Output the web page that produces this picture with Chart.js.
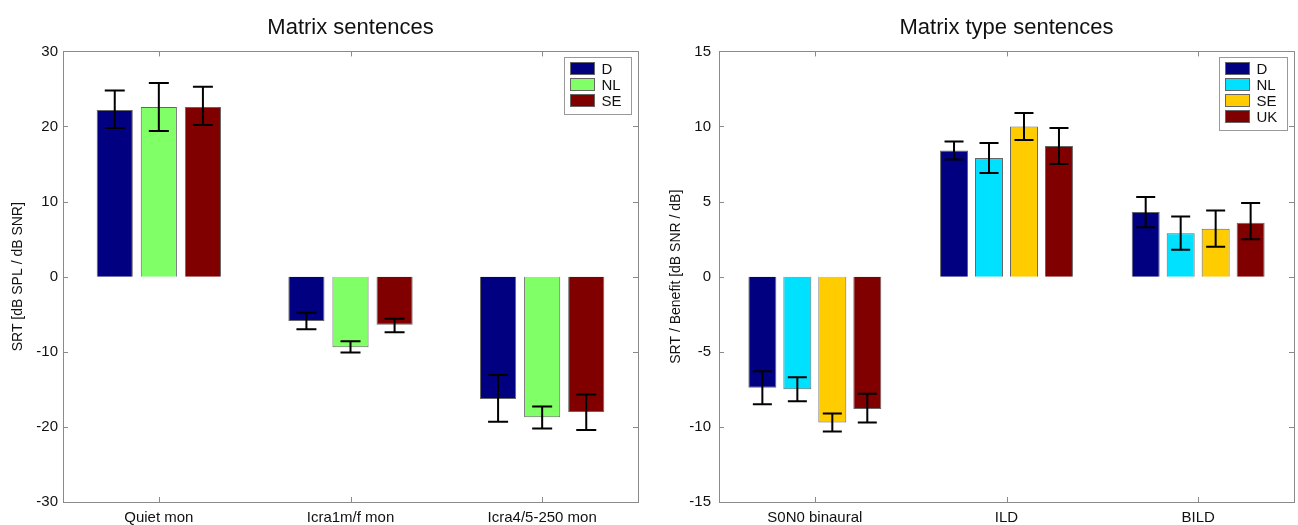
<!DOCTYPE html>
<html>
<head>
<meta charset="utf-8">
<script src="https://cdn.jsdelivr.net/npm/chart.js@4"></script>
<style>
  html, body { margin: 0; padding: 0; background: #fff; }
  #wrap { position: relative; width: 1298px; height: 525px; }
  canvas { position: absolute; top: 0; }
</style>
</head>
<body>
<div id="wrap">
  <canvas id="leftChart" width="649" height="525" style="left:0"></canvas>
  <canvas id="rightChart" width="649" height="525" style="left:649px"></canvas>
</div>
<script>
"use strict";

// left panel: Matrix sentences
var leftCategories = ["Quiet mon", "Icra1m/f mon", "Icra4/5-250 mon"];
var leftLabels = ["D", "NL", "SE"];
var leftColors = ["#000080", "#80FF66", "#800000"];
var leftMeans = [
    [22.2, -5.9, -16.3],
    [22.6, -9.4, -18.7],
    [22.6, -6.4, -18.0]
];
var leftErrHigh = [
    [24.8, -4.8, -13.1],
    [25.8, -8.6, -17.3],
    [25.3, -5.6, -15.7]
];
var leftErrLow = [
    [19.8, -7.0, -19.3],
    [19.4, -10.1, -20.2],
    [20.2, -7.4, -20.4]
];
var leftTicks = [-30, -20, -10, 0, 10, 20, 30];

// right panel: Matrix type sentences
var rightCategories = ["S0N0 binaural", "ILD", "BILD"];
var rightLabels = ["D", "NL", "SE", "UK"];
var rightColors = ["#000080", "#00E0FF", "#FFCC00", "#800000"];
var rightMeans = [
    [-7.4, 8.4, 4.3],
    [-7.5, 7.9, 2.9],
    [-9.7, 10.0, 3.2],
    [-8.8, 8.7, 3.6]
];
var rightErrHigh = [
    [-6.3, 9.0, 5.3],
    [-6.7, 8.9, 4.0],
    [-9.1, 10.9, 4.4],
    [-7.8, 9.9, 4.9]
];
var rightErrLow = [
    [-8.5, 7.8, 3.3],
    [-8.3, 6.9, 1.8],
    [-10.3, 9.1, 2.0],
    [-9.7, 7.5, 2.5]
];
var rightTicks = [-15, -10, -5, 0, 5, 10, 15];

var FONT = "'Liberation Sans', Arial, sans-serif";

// error bars, frame with inward ticks, and legend box inside the plot
var matlabLook = {
    id: 'matlabLook',
    afterDatasetsDraw: function(chart, args, opts) {
        var ctx = chart.ctx;
        var y = chart.scales.y;
        var x = chart.scales.x;
        var area = chart.chartArea;

        ctx.save();
        ctx.strokeStyle = '#000';
        ctx.lineWidth = 2;
        chart.data.datasets.forEach(function(ds, i) {
            var meta = chart.getDatasetMeta(i);
            meta.data.forEach(function(bar, j) {
                var top = y.getPixelForValue(ds.errHigh[j]);
                var bot = y.getPixelForValue(ds.errLow[j]);
                var half = opts.cap / 2;
                ctx.beginPath();
                ctx.moveTo(bar.x, top); ctx.lineTo(bar.x, bot);
                ctx.moveTo(bar.x - half, top); ctx.lineTo(bar.x + half, top);
                ctx.moveTo(bar.x - half, bot); ctx.lineTo(bar.x + half, bot);
                ctx.stroke();
            });
        });

        // frame
        ctx.strokeStyle = '#8a8a8a';
        ctx.lineWidth = 1;
        ctx.strokeRect(Math.round(area.left) + 0.5, Math.round(area.top) + 0.5,
            Math.round(area.right - area.left), Math.round(area.bottom - area.top));
        ctx.beginPath();
        y.ticks.forEach(function(t) {
            var py = Math.round(y.getPixelForValue(t.value)) + 0.5;
            ctx.moveTo(area.left, py); ctx.lineTo(area.left + 5, py);
            ctx.moveTo(area.right, py); ctx.lineTo(area.right - 5, py);
        });
        x.ticks.forEach(function(t, k) {
            var px = Math.round(x.getPixelForTick(k)) + 0.5;
            ctx.moveTo(px, area.bottom); ctx.lineTo(px, area.bottom - 5);
            ctx.moveTo(px, area.top); ctx.lineTo(px, area.top + 5);
        });
        ctx.stroke();

        // legend
        var n = chart.data.datasets.length;
        var bw = opts.legendWidth, bh = 9 + n * 16;
        var bx = Math.round(area.right) - 7 - bw + 0.5;
        var by = Math.round(area.top) + 6 + 0.5;
        ctx.fillStyle = '#fff';
        ctx.fillRect(bx, by, bw, bh);
        ctx.strokeStyle = '#999';
        ctx.strokeRect(bx, by, bw, bh);
        ctx.font = '15px ' + FONT;
        ctx.textBaseline = 'middle';
        chart.data.datasets.forEach(function(ds, i) {
            var cy = by + 11 + i * 16;
            ctx.fillStyle = ds.backgroundColor;
            ctx.fillRect(bx + 6, cy - 6, 24, 12);
            ctx.strokeStyle = '#666';
            ctx.strokeRect(bx + 6, cy - 6, 24, 12);
            ctx.fillStyle = '#111';
            ctx.fillText(ds.label, bx + 37, cy + 1);
        });
        ctx.restore();
    }
};

function makeChart(canvasId, cfg) {
    var datasets = cfg.labels.map(function(label, i) {
        return {
            label: label,
            data: cfg.means[i],
            errHigh: cfg.errHigh[i],
            errLow: cfg.errLow[i],
            backgroundColor: cfg.colors[i],
            borderColor: '#666',
            borderWidth: 1,
            categoryPercentage: cfg.catPct,
            barPercentage: cfg.barPct
        };
    });
    return new Chart(document.getElementById(canvasId), {
        type: 'bar',
        data: { labels: cfg.categories, datasets: datasets },
        options: {
            responsive: false,
            animation: false,
            layout: { padding: { left: 0, right: cfg.padRight, top: 0, bottom: 0 } },
            plugins: {
                legend: { display: false },
                tooltip: { enabled: false },
                title: {
                    display: true,
                    text: cfg.title,
                    fullSize: false,
                    color: '#111',
                    font: { family: FONT, size: 22, weight: 'normal', lineHeight: 1.2 },
                    padding: { top: 15, bottom: 10 }
                },
                matlabLook: { cap: cfg.cap, legendWidth: cfg.legendWidth }
            },
            scales: {
                x: {
                    grid: { display: false, drawTicks: false },
                    border: { display: false },
                    ticks: { color: '#111', font: { family: FONT, size: 15 }, padding: 7, maxRotation: 0 },
                    afterFit: function(s) { s.height = 23; }
                },
                y: {
                    min: cfg.ticks[0],
                    max: cfg.ticks[cfg.ticks.length - 1],
                    afterBuildTicks: function(s) {
                        s.ticks = cfg.ticks.map(function(v) { return { value: v }; });
                    },
                    grid: { display: false, drawTicks: false },
                    border: { display: false },
                    ticks: { color: '#111', font: { family: FONT, size: 15 }, padding: cfg.tickPad },
                    title: {
                        display: true,
                        text: cfg.yTitle,
                        color: '#111',
                        font: { family: FONT, size: 14 },
                        padding: { top: cfg.titlePad, bottom: 0 }
                    },
                    afterFit: function(s) { s.width = cfg.axisWidth; }
                }
            }
        },
        plugins: [matlabLook]
    });
}

makeChart('leftChart', {
    title: 'Matrix sentences',
    yTitle: 'SRT [dB SPL / dB SNR]',
    categories: leftCategories,
    labels: leftLabels,
    colors: leftColors,
    means: leftMeans,
    errHigh: leftErrHigh,
    errLow: leftErrLow,
    ticks: leftTicks,
    catPct: 0.69,
    barPct: 0.82,
    cap: 20,
    legendWidth: 67,
    axisWidth: 63,
    padRight: 11,
    tickPad: 5,
    titlePad: 10
});

makeChart('rightChart', {
    title: 'Matrix type sentences',
    yTitle: 'SRT / Benefit [dB SNR / dB]',
    categories: rightCategories,
    labels: rightLabels,
    colors: rightColors,
    means: rightMeans,
    errHigh: rightErrHigh,
    errLow: rightErrLow,
    ticks: rightTicks,
    catPct: 0.73,
    barPct: 0.8,
    cap: 19,
    legendWidth: 68,
    axisWidth: 70,
    padRight: 4,
    tickPad: 8,
    titlePad: 19
});
</script>
</body>
</html>
